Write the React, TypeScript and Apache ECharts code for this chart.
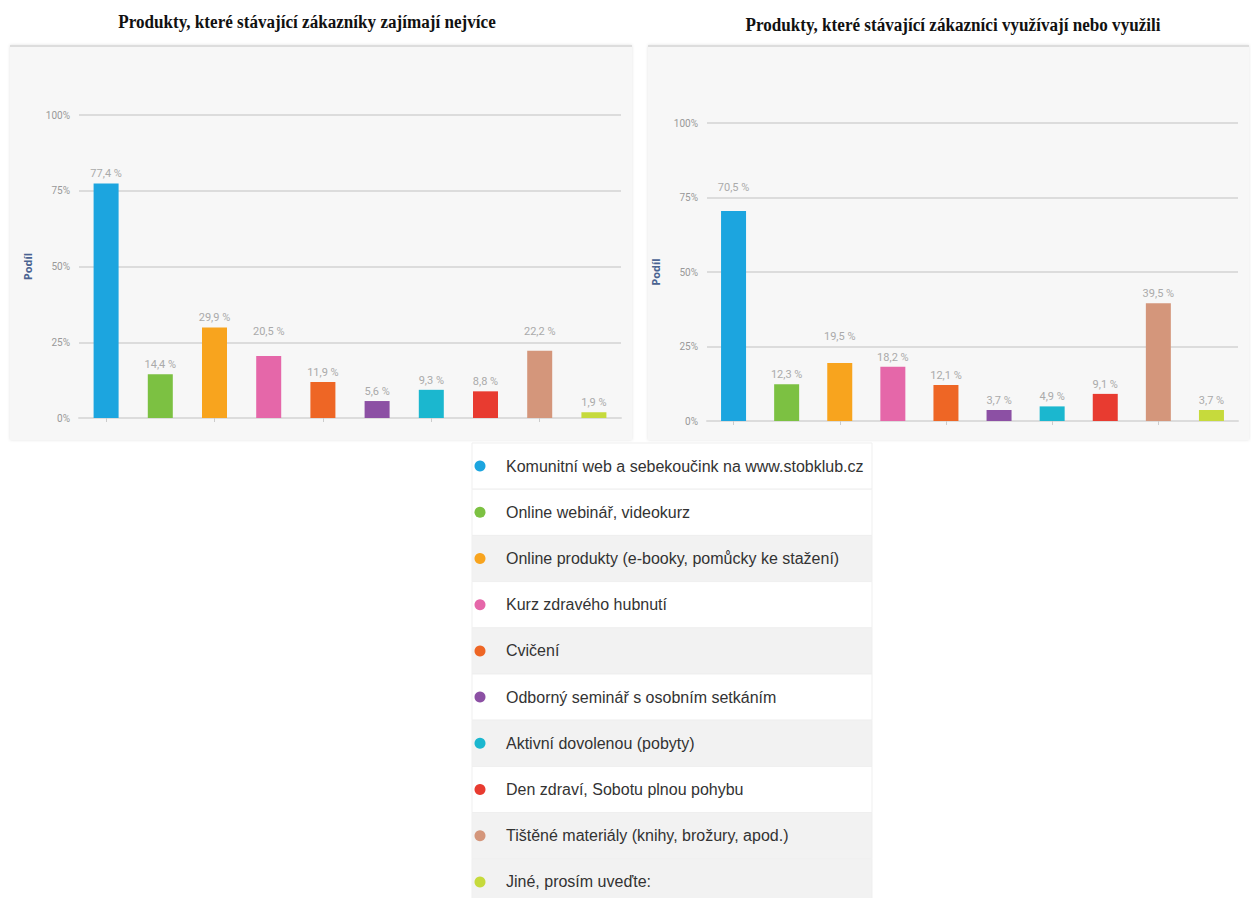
import React, { useEffect, useRef } from "react";
import * as echarts from "echarts";

const categories: string[] = [
  "Komunitní web a sebekoučink na www.stobklub.cz",
  "Online webinář, videokurz",
  "Online produkty (e-booky, pomůcky ke stažení)",
  "Kurz zdravého hubnutí",
  "Cvičení",
  "Odborný seminář s osobním setkáním",
  "Aktivní dovolenou (pobyty)",
  "Den zdraví, Sobotu plnou pohybu",
  "Tištěné materiály (knihy, brožury, apod.)",
  "Jiné, prosím uveďte:",
];

const colors: string[] = [
  "#1ca5df",
  "#7cc142",
  "#f8a41e",
  "#e567a9",
  "#ee6625",
  "#8c50a4",
  "#1bb7cf",
  "#e83b30",
  "#d4967b",
  "#c6da3c",
];

const interestValues: number[] = [77.4, 14.4, 29.9, 20.5, 11.9, 5.6, 9.3, 8.8, 22.2, 1.9];
const usedValues: number[] = [70.5, 12.3, 19.5, 18.2, 12.1, 3.7, 4.9, 9.1, 39.5, 3.7];

const yTicks: number[] = [0, 25, 50, 75, 100];

const titleLeft = "Produkty, které stávající zákazníky zajímají nejvíce";
const titleRight = "Produkty, které stávající zákazníci využívají nebo využili";
const axisName = "Podíl";

const legendRowShade: boolean[] = [false, false, true, false, true, false, true, false, true, true];

const narrow = "'Liberation Sans Narrow', 'Roboto', 'Liberation Sans', sans-serif";

// grid geometry (pixels)
const gridLeftPanel = { left: 79, top: 115, width: 542, height: 303 };
const gridRightPanel = { left: 707, top: 123, width: 531, height: 298 };

export default function App() {
  const ref = useRef<HTMLDivElement>(null);

  useEffect(() => {
    if (!ref.current) return;
    const chart = echarts.init(ref.current, undefined, { renderer: "svg" });

    const makeY = (gridIndex: number) => ({
      type: "value" as const,
      gridIndex,
      min: yTicks[0],
      max: yTicks[yTicks.length - 1],
      interval: 25,
      name: axisName,
      nameLocation: "middle" as const,
      nameRotate: 90,
      nameGap: 46,
      nameTextStyle: { color: "#4a6391", fontWeight: "bold" as const, fontSize: 11, fontFamily: "'Open Sans', sans-serif" },
      axisLine: { show: false },
      axisTick: { show: false },
      axisLabel: { color: "#999999", fontSize: 10, margin: 9, formatter: "{value}%", fontFamily: narrow },
      splitLine: { lineStyle: { color: "#dcdcdc", width: 2 } },
    });

    const makeX = (gridIndex: number) => ({
      type: "category" as const,
      gridIndex,
      data: categories,
      axisLabel: { show: false },
      axisLine: { lineStyle: { color: "#dcdcdc", width: 2 } },
      axisTick: { show: true, alignWithLabel: true, interval: 1, length: 4, lineStyle: { color: "#cccccc" } },
      splitLine: { show: false },
    });

    // push a label above a grid line when it would sit on it
    const labelDistance = (value: number, pxPerUnit: number) => {
      const base = 4;
      const h = 14;
      let d = base;
      yTicks.forEach((t) => {
        const gap = (t - value) * pxPerUnit;
        if (gap > base - 2 && gap < base + h) d = gap + 5;
      });
      return d;
    };

    const makeSeries = (idx: number, values: number[], pxPerUnit: number) => ({
      type: "bar" as const,
      xAxisIndex: idx,
      yAxisIndex: idx,
      data: values.map((v) => ({ value: v, label: { distance: labelDistance(v, pxPerUnit) } })),
      barWidth: 25,
      itemStyle: { color: (p: any) => colors[p.dataIndex] },
      label: {
        show: true,
        position: "top" as const,
        color: "#aaaaaa",
        fontSize: 11,
        fontFamily: narrow,
        formatter: (p: any) => String(p.value).replace(".", ",") + " %",
      },
    });

    const graphics: any[] = [
      {
        type: "rect",
        z: -10,
        shape: { x: 10, y: 45, width: 622, height: 395 },
        style: { fill: "#f7f7f7", shadowBlur: 3, shadowColor: "rgba(0,0,0,0.12)" },
      },
      { type: "line", z: -9, shape: { x1: 10, y1: 46, x2: 632, y2: 46 }, style: { stroke: "#dddddd", lineWidth: 2 } },
      {
        type: "rect",
        z: -10,
        shape: { x: 648, y: 45, width: 601, height: 395 },
        style: { fill: "#f7f7f7", shadowBlur: 3, shadowColor: "rgba(0,0,0,0.12)" },
      },
      { type: "line", z: -9, shape: { x1: 648, y1: 46, x2: 1249, y2: 46 }, style: { stroke: "#dddddd", lineWidth: 2 } },
      {
        type: "text",
        x: 307,
        y: 22,
        scaleX: 0.9,
        style: {
          text: titleLeft,
          fontFamily: "'Liberation Serif', 'DejaVu Serif', serif",
          fontWeight: "bold",
          fontSize: 19,
          fill: "#111111",
          align: "center",
          verticalAlign: "middle",
        },
      },
      {
        type: "text",
        x: 953,
        y: 25,
        scaleX: 0.9,
        style: {
          text: titleRight,
          fontFamily: "'Liberation Serif', 'DejaVu Serif', serif",
          fontWeight: "bold",
          fontSize: 19,
          fill: "#111111",
          align: "center",
          verticalAlign: "middle",
        },
      },
    ];

    const rowTop = 443;
    const rowH = 46.2;
    categories.forEach((name, i) => {
      const y = rowTop + i * rowH;
      graphics.push({
        type: "rect",
        z: -5,
        shape: { x: 472, y, width: 400, height: rowH },
        style: { fill: legendRowShade[i] ? "#f2f2f2" : "#ffffff", stroke: "#efefef", lineWidth: 1 },
      });
      graphics.push({
        type: "circle",
        shape: { cx: 480, cy: y + rowH / 2, r: 5.5 },
        style: { fill: colors[i] },
      });
      graphics.push({
        type: "text",
        x: 506,
        y: y + rowH / 2,
        style: {
          text: name,
          fontFamily: "'Liberation Sans', Arial, sans-serif",
          fontSize: 16,
          fill: "#333333",
          verticalAlign: "middle",
        },
      });
    });

    chart.setOption({
      animation: false,
      backgroundColor: "#ffffff",
      grid: [gridLeftPanel, gridRightPanel],
      xAxis: [makeX(0), makeX(1)],
      yAxis: [makeY(0), makeY(1)],
      series: [
        makeSeries(0, interestValues, gridLeftPanel.height / 100),
        makeSeries(1, usedValues, gridRightPanel.height / 100),
      ],
      graphic: graphics,
    });

    return () => chart.dispose();
  }, []);

  return <div ref={ref} style={{ position: "absolute", left: 0, top: 0, width: 1251, height: 898 }} />;
}
